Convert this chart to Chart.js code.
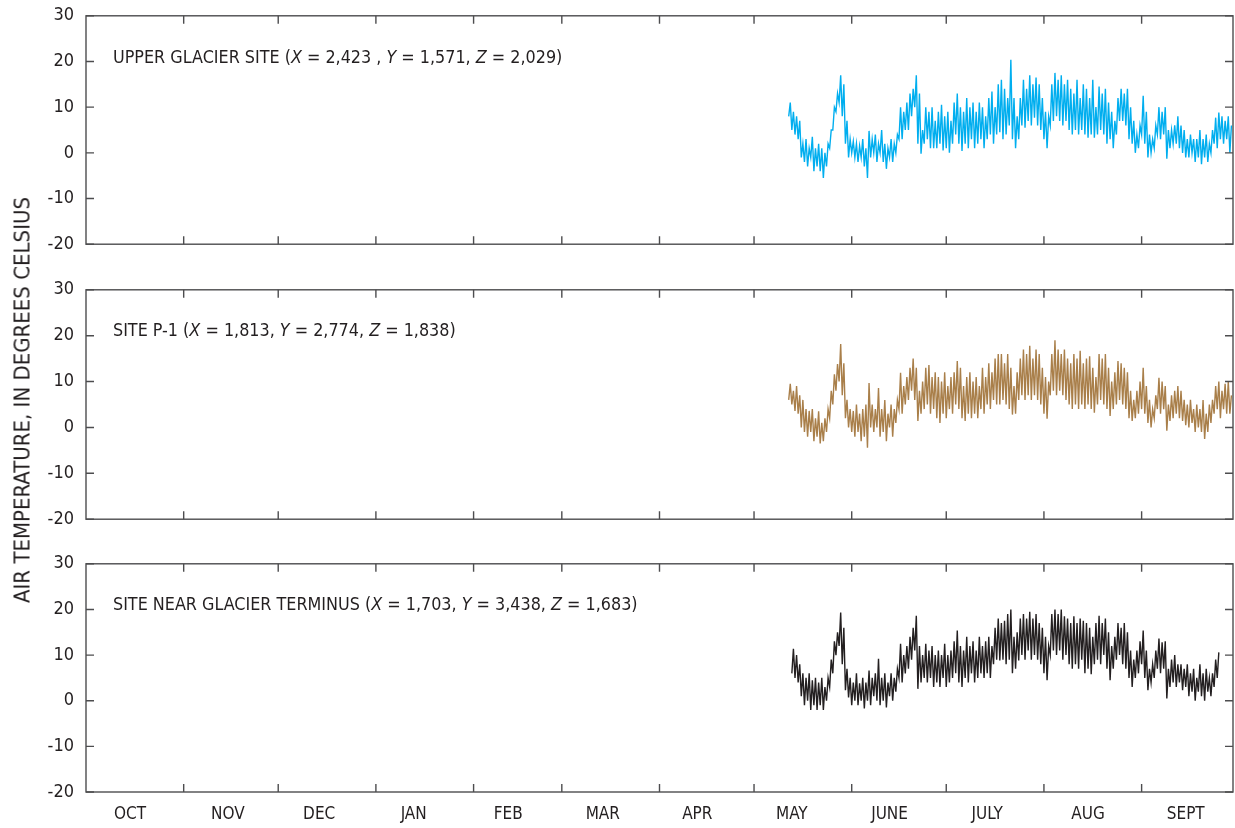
<!DOCTYPE html>
<html>
<head>
<meta charset="utf-8">
<script src="https://cdn.jsdelivr.net/npm/chart.js@4.4.1/dist/chart.umd.min.js"></script>
<style>
  html, body { margin: 0; padding: 0; background: #fff; }
  #wrap { position: relative; width: 1235px; height: 828px; overflow: hidden;
          font-family: 'Liberation Sans Narrow', 'DejaVu Sans Condensed', sans-serif; color: #231f20; }
  .panel { position: absolute; left: 0; width: 1235px; }
  .label { position: absolute; left: 113px; font-size: 17.8px; white-space: nowrap; line-height: 1; }
  #ytitle { position: absolute; left: 22px; top: 400px; transform: translate(-50%, -50%) rotate(-90deg);
            font-size: 22px; white-space: nowrap; }
</style>
</head>
<body>
<div id="wrap">
  <div class="panel" style="top:-7px;height:274px"><canvas id="chart-upper"></canvas></div>
  <div class="panel" style="top:267px;height:275px"><canvas id="chart-p1"></canvas></div>
  <div class="panel" style="top:541px;height:287px"><canvas id="chart-terminus"></canvas></div>
  <div class="label" style="top:48px">UPPER GLACIER SITE (<i>X</i> = 2,423 , <i>Y</i> = 1,571, <i>Z</i> = 2,029)</div>
  <div class="label" style="top:321px">SITE P-1 (<i>X</i> = 1,813, <i>Y</i> = 2,774, <i>Z</i> = 1,838)</div>
  <div class="label" style="top:595px">SITE NEAR GLACIER TERMINUS (<i>X</i> = 1,703, <i>Y</i> = 3,438, <i>Z</i> = 1,683)</div>
  <div id="ytitle">AIR TEMPERATURE, IN DEGREES CELSIUS</div>
</div>
<script>
// Days counted from October 1 (water year)
const monthStarts = [0, 31, 61, 92, 123, 151, 182, 212, 243, 273, 304, 335, 365];
const monthLabels = ['OCT', 'NOV', 'DEC', 'JAN', 'FEB', 'MAR', 'APR', 'MAY', 'JUNE', 'JULY', 'AUG', 'SEPT'];
const monthLabelDays = [14, 45, 74, 104, 134, 164, 194, 224, 255, 286, 318, 349];
const yTicks = [-20, -10, 0, 10, 20, 30];

// Upper glacier site: daily low / high, starting day 223 (May 12)
const upperStart = 223;
const upperLow = [8, 5, 4, 3, -1, -2, -3, -1, -4, -3, -4, -5.5, -3, 1, 5, 9, 11, 8, 2, -1,
  0, -1, -2, -1, -3, -5.5, -1, 0, -2, 0, -2, -3.5, -1, -2, 0, 3, 3, 5, 5, 8,
  10, 2, -0.2, 2, 3, 1, 1, 1, 2, 0.5, 1, 0, 2, 4, 2, 0.4, 2, 1, 3, 1,
  2, 3, 1, 3, 4, 2, 4, 4.5, 3, 4, 6, 3, 1, 3, 6, 5.5, 7, 6, 7.7, 6,
  5, 3, 1, 6, 7, 8, 7, 6, 7, 5, 4, 5, 4, 5, 4, 3.3, 4, 3.3, 4, 5,
  4, 2, 3, 1, 4, 7, 7, 6, 3, 2, 0, 1, 4, 2, -1, 0, 1, 4, 3, 4,
  -1.3, 1, 2, 2, 1, 0, -1, -1, 0, -2, -1, -2.5, -1, -2, 0, 2, 1, 3, 2, 3, 0];
const upperHigh = [11, 9, 8, 7, 2, 3, 1, 3.5, 1, 2, 1, 0, 2, 5, 10, 13, 17, 15, 7, 3,
  2.5, 2, 1.5, 3, 1, 4.8, 3, 4, 2, 5, 2, 1, 3, 2, 4, 10, 9, 11, 13, 14,
  17, 13, 5, 10, 9, 10, 7, 9, 10.5, 8, 9, 7, 11, 13, 10, 9, 12, 10, 11, 9,
  11, 10, 8, 12, 13.4, 10, 15, 16, 14, 12, 20.4, 12, 8, 12, 16, 14, 17, 15, 16.5, 15,
  12, 9, 8, 15, 17.5, 16, 17, 15, 16, 14, 13, 16, 12, 15, 14, 12, 16, 10, 14.5, 13,
  14, 11, 9, 7, 12, 14, 13, 14, 10, 7, 4, 6, 12.5, 9, 4, 3, 6, 10, 9, 10,
  5, 5, 6, 8, 6, 5, 3, 4, 3, 3, 5, 3, 4, 2, 5, 7.7, 8.8, 8, 7, 8, 6];

// Site P-1: daily low / high, starting day 223
const p1Start = 223;
const p1Low = [6, 5, 3.6, 3, 0, -1, -2, -1, -3, -2, -3.5, -3, -1, 2, 5, 8, 10, 7, 2, 0,
  -1, -2, -1, -3, -2, -4.4, 0, -1, 0, -2, -1, -3, 0, -2, 1, 4, 3, 5, 6, 8,
  6, 1.4, 3, 4, 5, 3, 4, 2, 1, 3, 2, 4, 3, 5, 4, 2, 1.4, 3, 2, 3,
  2, 4, 3, 5, 4, 6, 5, 5, 6, 5, 4, 2.8, 3, 6, 7, 6, 7, 6, 7, 6,
  5, 3, 1.9, 7, 8, 7, 8, 7, 6, 5, 4, 5, 4, 5, 4, 5, 4, 3.2, 5, 6,
  5, 4, 2.5, 4, 5, 6, 5, 4, 2, 1.4, 2, 3, 4, 3, 1, 0, 2, 4, 3, 4,
  -0.7, 1.4, 2, 3, 2, 1.4, 0.5, 0, 1, -1, 0, -1, -2.5, -1, 1, 3, 4, 2, 4, 3, 3];
const p1High = [9.5, 8, 9, 7, 6, 4, 3.6, 4, 2, 3.5, 1, 2, 4, 8, 11.6, 13.8, 18.2, 14, 6, 4,
  3.6, 5, 3, 4, 5, 9.7, 5, 4, 8.6, 4, 6, 3, 5, 4, 6, 11.9, 9, 11, 13, 15,
  13, 8, 10, 13, 13.6, 11, 12, 11, 10, 12, 9, 11, 12, 14.5, 13, 9, 11, 12, 10, 11,
  9, 13, 11, 14, 12, 15, 16, 16, 14, 16, 13, 9, 12, 15, 17, 16, 17.8, 15, 17, 16,
  13, 11, 10, 16, 19, 17, 16, 17, 15, 14, 16, 15, 16.7, 14, 15, 15.5, 13, 11, 16, 15,
  16, 13, 10, 12, 14.5, 14, 13, 12, 8, 6, 8, 10, 13, 9, 6, 4, 7, 10.8, 10, 9,
  5, 7, 8, 9, 8, 6, 5, 6, 4, 5, 4, 6, 3, 5, 6, 9, 10, 8, 9.5, 10, 7];

// Site near glacier terminus: daily low / high, starting day 224
const termStart = 224;
const termLow = [6, 5, 4, 1, -1, 0, -2, -1, -2, -1, -2, 0, 3, 6, 10, 12, 8, 2.3, 0.7, -1,
  0, -1, 0, -1.7, 0, -1, 1, 0, -1, 0, -1.5, 1, 0, 2, 5, 4, 6, 7, 9, 11,
  2.6, 4, 5, 4, 5, 3, 4, 3, 5, 3, 4, 5, 6, 4, 3, 5, 4, 6, 4, 5,
  6, 5, 6, 5, 8, 9, 8.8, 9, 8, 9, 6, 7, 8.8, 10, 9, 11, 9, 10, 9, 8,
  6, 4.5, 10, 11, 10, 11, 9, 10, 8, 7, 8, 7, 9, 6, 7, 5.8, 8, 9, 8, 10,
  7, 4.5, 7, 9, 10, 8, 7, 5, 3, 5, 6, 8, 5, 2.3, 4, 5, 7, 6, 7, 0.5,
  3, 4, 3, 4, 2.3, 3, 1, 2, 0, 2, 1, 0, 2, 1, 3, 5];
const termHigh = [11.4, 10, 8, 6, 5, 6, 4.5, 5, 4, 5, 3, 5, 9, 13, 15, 19.3, 16, 7, 5, 4,
  6, 3.8, 5, 4, 6.6, 5, 6, 9.2, 5, 6, 4, 6, 5, 7, 12.5, 10, 12, 14, 16, 18.6,
  12, 10, 12.5, 11, 12, 10, 11, 10, 12.5, 10, 11, 13, 15.4, 12, 11, 14, 12, 13, 11, 14,
  12, 13, 14, 12, 16, 18, 17, 17.5, 19, 20, 14, 15, 18, 19, 18, 19.5, 18, 19, 17, 16,
  14, 12, 19, 20, 19, 20, 18.5, 18, 17, 18.5, 17, 18, 17.5, 17, 16, 14, 17, 18.6, 17, 18,
  15, 12, 14, 17, 16, 17, 15, 11, 9, 11, 13, 15.4, 11, 7, 8, 11, 13.6, 12.8, 13, 7,
  9, 10, 8, 8, 7, 8, 6, 7, 5, 8, 6, 7, 5, 6, 9, 10.6];

const axisColor = '#4d4d4f';
const textColor = '#231f20';
const fontFamily = "'Liberation Sans Narrow', 'DejaVu Sans Condensed', sans-serif";

// low at start of day, high near midday
function buildSeries(start, lows, highs) {
    const pts = [];
    lows.forEach((lo, i) => {
        pts.push({ x: start + i, y: lo });
        pts.push({ x: start + i + 0.5, y: highs[i] });
    });
    return pts;
}

// Box around plot area with inward ticks on all four sides
const frameTicks = {
    id: 'frameTicks',
    afterDraw(chart) {
        const { ctx, chartArea: a, scales } = chart;
        const len = 8;
        ctx.save();
        ctx.strokeStyle = axisColor;
        ctx.lineWidth = 1.4;
        ctx.strokeRect(a.left, a.top, a.right - a.left, a.bottom - a.top);
        ctx.beginPath();
        yTicks.forEach(v => {
            const y = scales.y.getPixelForValue(v);
            ctx.moveTo(a.left, y); ctx.lineTo(a.left + len, y);
            ctx.moveTo(a.right, y); ctx.lineTo(a.right - len, y);
        });
        monthStarts.forEach(d => {
            const x = scales.x.getPixelForValue(d);
            if (x <= a.left + 1 || x >= a.right - 1) return;
            ctx.moveTo(x, a.bottom); ctx.lineTo(x, a.bottom - len);
            ctx.moveTo(x, a.top); ctx.lineTo(x, a.top + len);
        });
        ctx.stroke();
        ctx.restore();
    }
};

function makePanel(canvasId, data, color, showMonths) {
    const canvas = document.getElementById(canvasId);
    return new Chart(canvas.getContext('2d'), {
        type: 'line',
        data: {
            datasets: [{
                data: data,
                borderColor: color,
                borderWidth: 1.4,
                pointRadius: 0,
                tension: 0,
                fill: false
            }]
        },
        options: {
            responsive: true,
            maintainAspectRatio: false,
            animation: false,
            layout: { padding: { top: 8, right: 2, left: 0, bottom: showMonths ? 0 : 19 } },
            plugins: { legend: { display: false }, tooltip: { enabled: false } },
            scales: {
                x: {
                    type: 'linear',
                    min: 0,
                    max: 364,
                    display: showMonths,
                    grid: { display: false, drawTicks: false },
                    border: { display: false },
                    afterBuildTicks: (scale) => {
                        scale.ticks = monthLabelDays.map(v => ({ value: v }));
                    },
                    afterFit: (scale) => { if (showMonths) scale.height = 36; },
                    ticks: {
                        autoSkip: false,
                        maxRotation: 0,
                        padding: 12,
                        color: textColor,
                        font: { family: fontFamily, size: 17 },
                        callback: (v, i) => monthLabels[i]
                    }
                },
                y: {
                    min: -20,
                    max: 30,
                    grid: { display: false, drawTicks: false },
                    border: { display: false },
                    afterBuildTicks: (scale) => {
                        scale.ticks = yTicks.map(v => ({ value: v }));
                    },
                    afterFit: (scale) => { scale.width = 86; },
                    ticks: {
                        padding: 12,
                        color: textColor,
                        font: { family: fontFamily, size: 18 }
                    }
                }
            }
        },
        plugins: [frameTicks]
    });
}

makePanel('chart-upper', buildSeries(upperStart, upperLow, upperHigh), '#00aeef', false);
makePanel('chart-p1', buildSeries(p1Start, p1Low, p1High), '#a97f4a', false);
makePanel('chart-terminus', buildSeries(termStart, termLow, termHigh), '#231f20', true);
</script>
</body>
</html>
